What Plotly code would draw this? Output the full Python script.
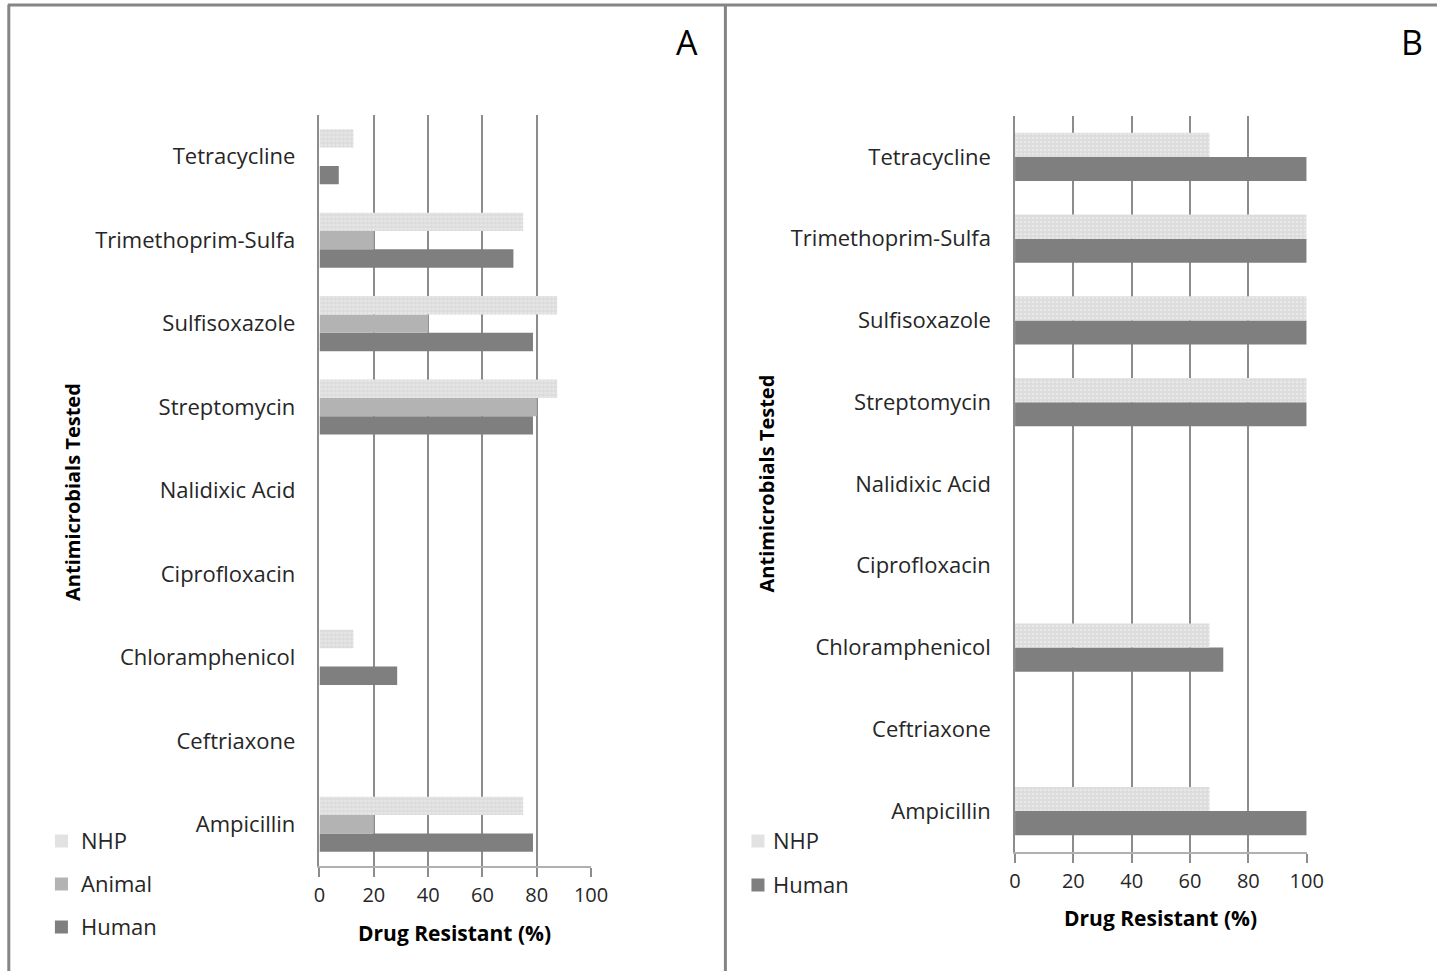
import plotly.graph_objects as go

W, H = 1454, 971

drugs = ["Tetracycline", "Trimethoprim-Sulfa", "Sulfisoxazole", "Streptomycin",
         "Nalidixic Acid", "Ciprofloxacin", "Chloramphenicol", "Ceftriaxone", "Ampicillin"]

# Panel A
a_nhp = [12.5, 75, 87.5, 87.5, 0, 0, 12.5, 0, 75]
a_animal = [0, 20, 40, 80, 0, 0, 0, 0, 20]
a_human = [7.1, 71.4, 78.6, 78.6, 0, 0, 28.6, 0, 78.6]
# Panel B
b_nhp = [66.7, 100, 100, 100, 0, 0, 66.7, 0, 66.7]
b_human = [100, 100, 100, 100, 0, 0, 71.4, 0, 100]

x_ticks = [0, 20, 40, 60, 80, 100]

FONT = "Open Sans"
TXT = "#262626"
HUMAN_C = "#7f7f7f"
ANIMAL_C = "#b3b3b3"
NHP_BG = "#dcdcdc"
NHP_FG = "#f3f3f3"

# horizontal compensation for the capture
SX, OX = 0.982, 6.2

def px(x):
    return (x - OX) / SX / W

def py(y):
    return 1 - y / H

nhp_marker = dict(color=NHP_BG, line=dict(width=0),
                  pattern=dict(shape=".", bgcolor=NHP_BG, fgcolor=NHP_FG, size=4, solidity=0.35))

fig = go.Figure()

# Panel A: three bars per category (first trace sits lowest)
fig.add_trace(go.Bar(y=drugs, x=a_human, orientation="h", name="Human",
                     marker=dict(color=HUMAN_C, line=dict(width=0)),
                     width=0.22, offset=-0.33, xaxis="x", yaxis="y", showlegend=False))
fig.add_trace(go.Bar(y=drugs, x=a_animal, orientation="h", name="Animal",
                     marker=dict(color=ANIMAL_C, line=dict(width=0)),
                     width=0.22, offset=-0.11, xaxis="x", yaxis="y", showlegend=False))
fig.add_trace(go.Bar(y=drugs, x=a_nhp, orientation="h", name="NHP",
                     marker=nhp_marker,
                     width=0.22, offset=0.11, xaxis="x", yaxis="y", showlegend=False))

# Panel B: two bars per category
fig.add_trace(go.Bar(y=drugs, x=b_human, orientation="h", name="Human",
                     marker=dict(color=HUMAN_C, line=dict(width=0)),
                     width=0.295, offset=-0.295, xaxis="x2", yaxis="y2", showlegend=False))
fig.add_trace(go.Bar(y=drugs, x=b_nhp, orientation="h", name="NHP",
                     marker=nhp_marker,
                     width=0.295, offset=0.0, xaxis="x2", yaxis="y2", showlegend=False))

xaxis_common = dict(
    range=[0, 100], tickvals=x_ticks, ticktext=[str(v) for v in x_ticks],
    showgrid=True, gridcolor="#8c8c8c", gridwidth=1.5,
    showline=True, linecolor="#b0b0b0", linewidth=1.5,
    ticks="outside", ticklen=9, tickcolor="#8c8c8c", tickwidth=1.5,
    tickfont=dict(family=FONT, size=20, color=TXT),
    ticklabelstandoff=1,
    zeroline=False, fixedrange=True,
)
yaxis_common = dict(
    type="category", categoryorder="array", categoryarray=drugs[::-1],
    showgrid=False, showline=True, linecolor="#8c8c8c", linewidth=1.5,
    ticks="outside", ticklen=18, tickcolor="rgba(0,0,0,0)",
    tickfont=dict(family=FONT, size=22, color=TXT),
    zeroline=False, fixedrange=True,
)

fig.update_layout(
    width=W, height=H,
    margin=dict(l=0, r=0, t=0, b=0),
    paper_bgcolor="white", plot_bgcolor="white",
    barmode="overlay",
    xaxis=dict(domain=[px(319), px(590)], anchor="y", **xaxis_common),
    yaxis=dict(domain=[py(866), py(115)], anchor="x", **yaxis_common),
    xaxis2=dict(domain=[px(1013), px(1304)], anchor="y2", **xaxis_common),
    yaxis2=dict(domain=[py(852), py(116)], anchor="x2", **yaxis_common),
)

annotations = []
shapes = []

def ann(text, x, y, size, bold=False, angle=0, xanchor="center", color=TXT):
    annotations.append(dict(
        text=f"<b>{text}</b>" if bold else text,
        x=px(x), y=py(y), xref="paper", yref="paper",
        xanchor=xanchor, yanchor="middle", showarrow=False, textangle=angle,
        font=dict(family=FONT, size=size, color=color)))

# Panel letters
ann("A", 686, 42, 34, color="black")
ann("B", 1409, 42, 34, color="black")

# Axis titles
ann("Drug Resistant (%)", 454, 933, 21, bold=True, color="black")
ann("Drug Resistant (%)", 1158, 918, 21, bold=True, color="black")
ann("Antimicrobials Tested", 72, 492, 20, bold=True, angle=-90, color="black")
ann("Antimicrobials Tested", 766, 483, 20, bold=True, angle=-90, color="black")

# Legends
def legend_item(x0, xt, yc, label, color):
    s = 13
    shapes.append(dict(type="rect", xref="paper", yref="paper",
                       x0=px(x0), x1=px(x0 + s), y0=py(yc + 1 + s / 2), y1=py(yc + 1 - s / 2),
                       fillcolor=color, line=dict(width=0)))
    ann(label, xt, yc, 22, xanchor="left")

legend_item(55, 79, 840, "NHP", "#e2e2e2")
legend_item(55, 79, 883, "Animal", ANIMAL_C)
legend_item(55, 79, 926, "Human", HUMAN_C)
legend_item(750, 770, 840, "NHP", "#e2e2e2")
legend_item(750, 770, 884, "Human", HUMAN_C)

# Frame lines
frame = "#858585"
shapes.append(dict(type="line", xref="paper", yref="paper", x0=px(8), x1=1, y0=py(5), y1=py(5),
                   line=dict(color=frame, width=3)))
shapes.append(dict(type="line", xref="paper", yref="paper", x0=px(9), x1=px(9), y0=0, y1=py(5),
                   line=dict(color=frame, width=3)))
shapes.append(dict(type="line", xref="paper", yref="paper", x0=px(724), x1=px(724), y0=0, y1=py(5),
                   line=dict(color=frame, width=3)))

fig.update_layout(annotations=annotations, shapes=shapes)

fig.write_html("out.html")
